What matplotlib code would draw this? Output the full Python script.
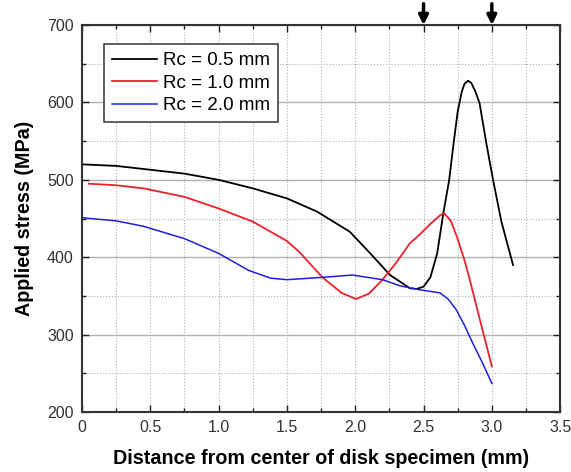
import matplotlib.pyplot as plt
from matplotlib.ticker import MultipleLocator

plt.rcParams['font.family'] = ['Liberation Sans', 'DejaVu Sans']

# Rc = 0.5 mm
x_05 = [0.0, 0.25, 0.5, 0.75, 1.0, 1.25, 1.5, 1.72, 1.96, 2.11, 2.255, 2.4, 2.45,
        2.5, 2.55, 2.6, 2.645, 2.687, 2.72, 2.75, 2.78, 2.8, 2.826, 2.85, 2.88,
        2.91, 2.96, 3.01, 3.07, 3.155]
y_05 = [520, 518, 513, 508, 500, 489, 476, 459, 433, 405, 377, 360, 359,
        362, 374, 405, 457, 499, 547, 588, 614, 624, 628, 625, 614,
        599, 547, 499, 446, 390]

# Rc = 1.0 mm
x_10 = [0.05, 0.25, 0.45, 0.75, 1.0, 1.25, 1.5, 1.59, 1.76, 1.9, 2.006, 2.1, 2.2,
        2.3, 2.4, 2.47, 2.55, 2.62, 2.65, 2.7, 2.745, 2.8, 2.84, 2.92, 3.0]
y_10 = [495, 493, 489, 478, 463, 446, 421, 407, 374, 354, 346, 353, 371,
        393, 418, 429, 443, 454, 457, 447, 426, 396, 370, 314, 259]

# Rc = 2.0 mm
x_20 = [0.0, 0.25, 0.45, 0.75, 1.0, 1.22, 1.38, 1.5, 1.76, 1.98, 2.2, 2.33, 2.47,
        2.62, 2.68, 2.74, 2.8, 2.86, 2.93, 3.0]
y_20 = [451, 447, 440, 424, 405, 383, 373, 371, 374, 377, 371, 363, 358,
        354, 346, 332, 312, 289, 264, 237]

fig = plt.figure(figsize=(5.71, 4.72), dpi=100)
ax = fig.add_axes([0.1436, 0.127, 0.8374, 0.82])

ax.plot(x_05, y_05, color='black', lw=1.3, label='Rc = 0.5 mm')
ax.plot(x_10, y_10, color='#e8212b', lw=1.3, label='Rc = 1.0 mm')
ax.plot(x_20, y_20, color='#1f1fe0', lw=1.1, label='Rc = 2.0 mm')

ax.set_xlim(0, 3.5)
ax.set_ylim(200, 700)
ax.xaxis.set_major_locator(MultipleLocator(0.5))
ax.xaxis.set_minor_locator(MultipleLocator(0.25))
ax.yaxis.set_major_locator(MultipleLocator(100))
ax.yaxis.set_minor_locator(MultipleLocator(50))
ax.set_xticks([0, 0.5, 1.0, 1.5, 2.0, 2.5, 3.0, 3.5])
ax.set_xticklabels(['0', '0.5', '1.0', '1.5', '2.0', '2.5', '3.0', '3.5'])

ax.grid(True, which='major', axis='y', color='#b0b0b0', lw=1.0, ls='-')
ax.grid(True, which='minor', axis='y', color='#b0b0b0', lw=0.8, ls=':')
ax.grid(True, which='both', axis='x', color='#b0b0b0', lw=0.8, ls=':')
ax.set_axisbelow(True)

ax.tick_params(which='both', direction='in', top=True, right=True, labelsize=11.5,
               colors='#222222', labelcolor='#333333')
ax.tick_params(which='major', length=5, width=1, pad=6)
ax.tick_params(which='minor', length=3, width=1)
for s in ax.spines.values():
    s.set_linewidth(1.5)
    s.set_color('#333333')

ax.set_xlabel('Distance from center of disk specimen (mm)', fontsize=14.2,
              fontweight='bold', labelpad=10)
ax.set_ylabel('Applied stress (MPa)', fontsize=14.2, fontweight='bold', labelpad=9)

leg = ax.legend(loc='upper left', bbox_to_anchor=(0.046, 0.951), fontsize=13.6,
                fancybox=False, frameon=True, handlelength=2.4, handletextpad=0.3,
                labelspacing=0.28, borderpad=0.42, borderaxespad=0)
leg.get_frame().set_edgecolor('#444444')
leg.get_frame().set_linewidth(1.2)
leg.get_frame().set_alpha(1)

# arrows above the frame
for xa in [2.5, 3.0]:
    ax.annotate('', xy=(xa, 1.0), xycoords=('data', 'axes fraction'),
                xytext=(xa, 1.055), textcoords=('data', 'axes fraction'),
                arrowprops=dict(arrowstyle='-|>', color='black', lw=2.5,
                                mutation_scale=14, shrinkA=0, shrinkB=0),
                annotation_clip=False)

fig.savefig('out.png', dpi=100)
